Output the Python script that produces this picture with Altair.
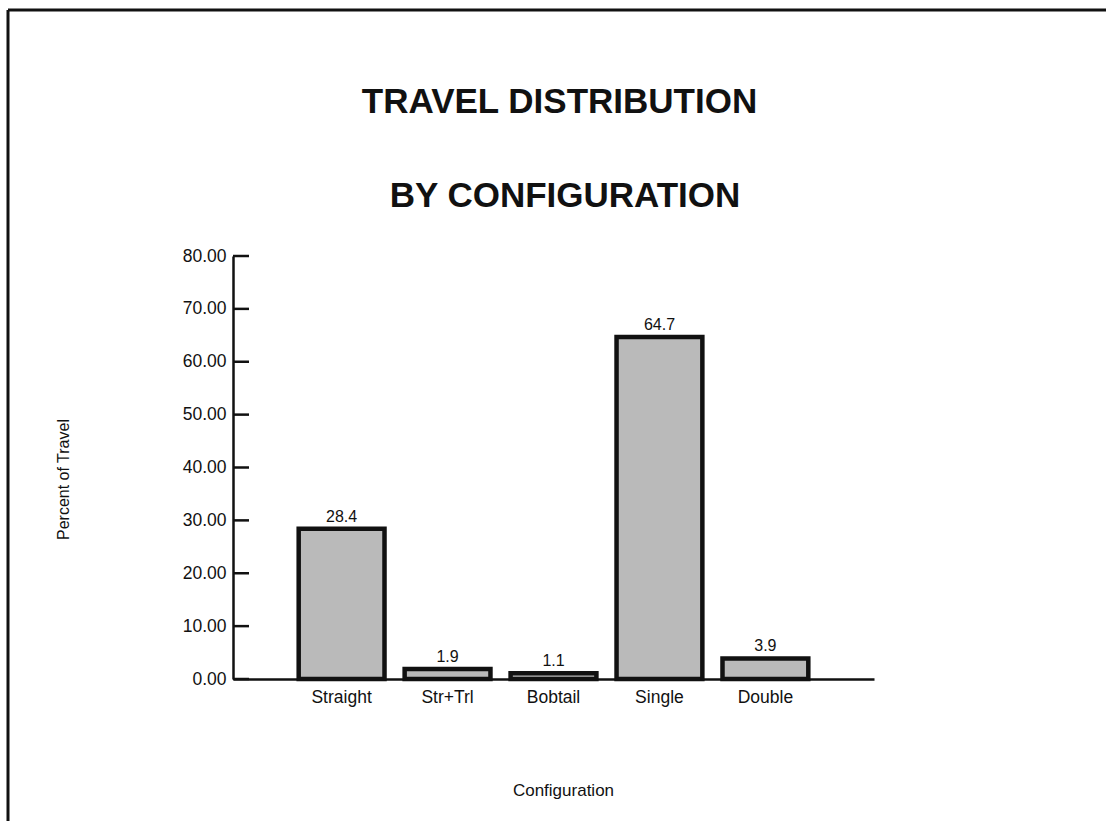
import altair as alt
import pandas as pd

# Share of travel by truck configuration (percent)
CONFIGS = ["Straight", "Str+Trl", "Bobtail", "Single", "Double"]
PERCENTS = [28.4, 1.9, 1.1, 64.7, 3.9]
Y_TICKS = [0, 10, 20, 30, 40, 50, 60, 70, 80]
TITLE_LINES = ["TRAVEL DISTRIBUTION", "BY CONFIGURATION"]

FONT = "Liberation Sans"
INK = "#111111"
W, H = 641, 423
PAD_L, PAD_T = 233, 256

bars_df = pd.DataFrame({"config": CONFIGS, "pct": PERCENTS})
ticks_df = pd.DataFrame({"v": Y_TICKS})

x_enc = alt.X(
    "config:N",
    sort=CONFIGS,
    scale=alt.Scale(paddingInner=0.19, paddingOuter=0.62),
    axis=alt.Axis(
        title="Configuration",
        titleFont=FONT,
        titleFontSize=17,
        titleFontWeight="normal",
        titleColor=INK,
        titleX=330,
        titleY=111,
        titleBaseline="middle",
        titleAlign="center",
        labelFont=FONT,
        labelFontSize=17.5,
        labelColor=INK,
        labelAngle=0,
        labelPadding=9,
        ticks=False,
        tickSize=0,
        domainColor=INK,
        domainWidth=2.5,
    ),
)

y_scale = alt.Scale(domain=[0, 80], nice=False)
y_enc = alt.Y(
    "pct:Q",
    scale=y_scale,
    axis=alt.Axis(
        title="Percent of Travel",
        titleFont=FONT,
        titleFontSize=16,
        titleFontWeight="normal",
        titleColor=INK,
        titleX=-170,
        titleY=223,
        titleAngle=270,
        titleAlign="center",
        titleBaseline="middle",
        values=Y_TICKS,
        format=".2f",
        labelFont=FONT,
        labelFontSize=17.5,
        labelColor=INK,
        labelPadding=7,
        ticks=False,
        tickSize=0,
        grid=False,
        domainColor=INK,
        domainWidth=2.5,
    ),
)

bars = alt.Chart(bars_df).mark_bar(
    fill="#bababa", stroke=INK, strokeWidth=4.5
).encode(x=x_enc, y=y_enc)

values = alt.Chart(bars_df).mark_text(
    font=FONT, fontSize=16, color=INK, baseline="bottom", dy=-4
).encode(
    x=alt.X("config:N", sort=CONFIGS),
    y=alt.Y("pct:Q", scale=y_scale),
    text=alt.Text("pct:Q", format=".1f"),
)

# inward-pointing tick marks on the value axis
inner_ticks = alt.Chart(ticks_df).mark_rule(color=INK, strokeWidth=2.5).encode(
    y=alt.Y("v:Q", scale=y_scale),
    x=alt.value(0),
    x2=alt.value(16),
)

title1 = alt.Chart(alt.Data(values=[{"t": TITLE_LINES[0]}])).mark_text(
    font=FONT, fontSize=35, fontWeight="bold", color=INK,
    align="center", baseline="alphabetic",
).encode(text="t:N", x=alt.value(326.5), y=alt.value(-143))

title2 = alt.Chart(alt.Data(values=[{"t": TITLE_LINES[1]}])).mark_text(
    font=FONT, fontSize=35, fontWeight="bold", color=INK,
    align="center", baseline="alphabetic",
).encode(text="t:N", x=alt.value(332), y=alt.value(-49))

# page frame (top and left edges)
frame_left = alt.Chart(alt.Data(values=[{}])).mark_rule(color=INK, strokeWidth=3).encode(
    x=alt.value(8 - PAD_L), y=alt.value(10 - PAD_T), y2=alt.value(821 - PAD_T)
)
frame_top = alt.Chart(alt.Data(values=[{}])).mark_rule(color=INK, strokeWidth=3).encode(
    x=alt.value(8 - PAD_L), x2=alt.value(1106 - PAD_L), y=alt.value(10 - PAD_T)
)

chart = alt.layer(
    frame_left, frame_top, title1, title2, bars, inner_ticks, values
).properties(
    width=W,
    height=H,
    autosize=alt.AutoSizeParams(type="none"),
    padding={"left": PAD_L, "top": PAD_T, "right": 1106 - PAD_L - W, "bottom": 821 - PAD_T - H},
    background="white",
).configure_view(stroke=None)

chart.save("out.html", embed_options={"renderer": "svg", "actions": False})
